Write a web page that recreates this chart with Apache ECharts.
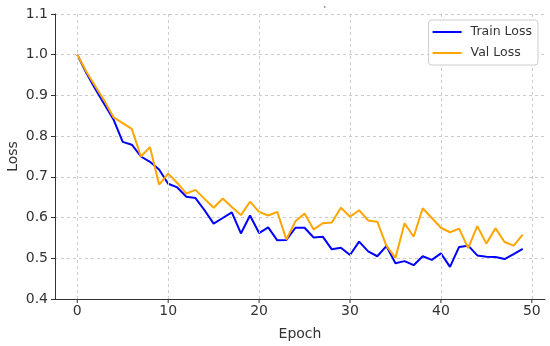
<!DOCTYPE html>
<html>
<head>
<meta charset="utf-8">
<script src="https://cdn.jsdelivr.net/npm/echarts@6/dist/echarts.min.js"></script>
<style>html,body{margin:0;padding:0;background:#fff;}#c{width:550px;height:346px;}</style>
</head>
<body>
<div id="c"></div>
<script>
const epochs = Array.from({length: 50}, (_, i) => i);
const trainLoss = [1.000, 0.955, 0.915, 0.878, 0.840, 0.786, 0.779, 0.750, 0.737, 0.718,
  0.683, 0.674, 0.651, 0.648, 0.618, 0.585, 0.599, 0.613, 0.561, 0.605,
  0.562, 0.576, 0.544, 0.545, 0.575, 0.575, 0.551, 0.553, 0.522, 0.526,
  0.508, 0.541, 0.517, 0.505, 0.530, 0.488, 0.493, 0.483, 0.505, 0.496,
  0.512, 0.479, 0.528, 0.531, 0.507, 0.504, 0.503, 0.498, 0.510, 0.523];
const valLoss = [1.000, 0.958, 0.922, 0.886, 0.846, 0.832, 0.818, 0.750, 0.773, 0.681,
  0.708, 0.685, 0.659, 0.668, 0.646, 0.624, 0.647, 0.626, 0.606, 0.639,
  0.614, 0.605, 0.614, 0.546, 0.591, 0.610, 0.571, 0.586, 0.588, 0.624,
  0.602, 0.618, 0.593, 0.590, 0.531, 0.501, 0.586, 0.553, 0.623, 0.599,
  0.575, 0.564, 0.573, 0.525, 0.579, 0.536, 0.574, 0.540, 0.531, 0.558];
const xTicks = [0, 10, 20, 30, 40, 50];
const yTicks = [0.4, 0.5, 0.6, 0.7, 0.8, 0.9, 1.0, 1.1];

const chart = echarts.init(document.getElementById('c'));
const font = 'DejaVu Sans';
const legendIcon = 'path://M0,0H29V2H0Z';
chart.setOption({
  animation: false,
  backgroundColor: '#fff',
  title: {text: "'", left: 319, top: 0, textStyle: {fontSize: 9, color: '#333', fontWeight: 'normal'}},
  grid: {left: 55, right: 5, top: 14, bottom: 47, outerBoundsMode: 'none', containLabel: false},
  legend: {
    right: 12, top: 20, orient: 'vertical', z: 20,
    data: [{name: 'Train Loss', icon: legendIcon}, {name: 'Val Loss', icon: legendIcon}],
    itemWidth: 29, itemHeight: 2, itemGap: 7,
    itemStyle: {borderWidth: 0},
    backgroundColor: '#fff', borderColor: '#ccc', borderWidth: 1, borderRadius: 3,
    padding: [5, 6, 5, 4],
    textStyle: {fontFamily: font, fontSize: 12.5, color: '#333', lineHeight: 14, padding: [0, 0, 0, 4]}
  },
  xAxis: {
    type: 'value', min: -2.45, max: 51.45,
    interval: 10,
    axisLine: {onZero: false, lineStyle: {color: '#333', width: 1}},
    axisTick: {show: false},
    splitLine: {show: false},
    axisLabel: {show: false},
    name: 'Epoch', nameLocation: 'middle', nameGap: 28, nameMoveOverlap: false,
    nameTextStyle: {fontFamily: font, fontSize: 14, color: '#333'}
  },
  yAxis: {
    type: 'value', min: 0.4, max: 1.1, interval: 0.1,
    axisLine: {show: true, onZero: false, lineStyle: {color: '#333', width: 1}},
    axisTick: {show: true, length: 4, lineStyle: {color: '#333'}},
    splitLine: {show: true, lineStyle: {color: '#ccc', type: [3, 3], width: 1}},
    axisLabel: {fontFamily: font, fontSize: 14, color: '#333', margin: 7,
      formatter: v => v.toFixed(1)},
    name: 'Loss', nameLocation: 'middle', nameGap: 35, nameRotate: 90, nameMoveOverlap: false,
    nameTextStyle: {fontFamily: font, fontSize: 14, color: '#333'}
  },
  series: [
    {
      name: 'Train Loss', type: 'line', symbol: 'none', showSymbol: false,
      data: epochs.map((e, i) => [e, trainLoss[i]]),
      lineStyle: {color: '#0000ff', width: 2}, itemStyle: {color: '#0000ff'}, z: 3
    },
    {
      name: 'Val Loss', type: 'line', symbol: 'none', showSymbol: false,
      data: epochs.map((e, i) => [e, valLoss[i]]),
      lineStyle: {color: '#ffa500', width: 2}, itemStyle: {color: '#ffa500'}, z: 4
    },
    {
      name: 'xticks', type: 'line', silent: true, showSymbol: false,
      data: [], z: 1,
      markLine: {
        silent: true, symbol: 'none', animation: false,
        label: {show: false},
        lineStyle: {color: '#ccc', type: [3, 3], width: 1},
        data: xTicks.map(t => ({xAxis: t}))
      }
    }
  ]
});
const xLabels = xTicks.map(t => {
  const p = chart.convertToPixel({gridIndex: 0}, [t, 0.4]);
  return [
    {type: 'text', x: p[0], y: p[1] + 5, style: {text: String(t), font: '14px "DejaVu Sans"', fill: '#333', align: 'center', verticalAlign: 'top'}},
    {type: 'line', shape: {x1: p[0], y1: p[1], x2: p[0], y2: p[1] + 4}, style: {stroke: '#333', lineWidth: 1}}
  ];
}).flat();
chart.setOption({graphic: xLabels});
</script>
</body>
</html>
